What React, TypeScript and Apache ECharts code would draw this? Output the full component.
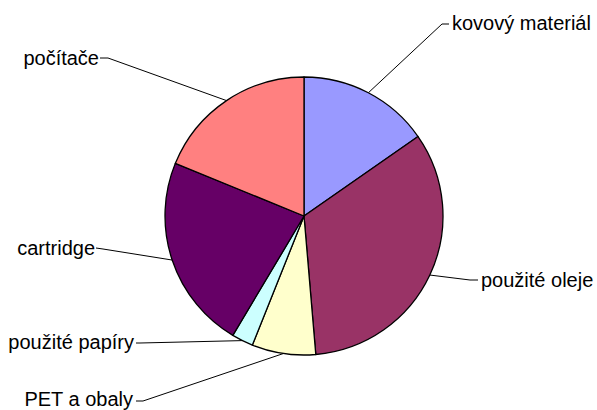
import React, { useEffect, useRef } from "react";
import * as echarts from "echarts";

const categories = ["kovový materiál", "použité oleje", "PET a obaly", "použité papíry", "cartridge", "počítače"];
const values = [15.3, 33.3, 7.4, 2.5, 22.6, 18.8];
const colors = ["#9999FF", "#993366", "#FFFFCC", "#CCFFFF", "#660066", "#FF8080"];

// label anchor [x, y, align] and leader elbow / end points
const labelLayouts: { x: number; y: number; align: "left" | "right"; elbow: number[]; end: number[] }[] = [
  { x: 452, y: 23, align: "left", elbow: [442, 24], end: [449, 24] },
  { x: 481, y: 280, align: "left", elbow: [470, 280], end: [478, 280] },
  { x: 133, y: 399, align: "right", elbow: [143, 401], end: [136, 401] },
  { x: 134, y: 342, align: "right", elbow: [140, 343], end: [136, 343] },
  { x: 95, y: 248, align: "right", elbow: [103, 249], end: [96, 248] },
  { x: 99, y: 58, align: "right", elbow: [108, 58], end: [100, 58] },
];

export default function App() {
  const ref = useRef<HTMLDivElement>(null);
  useEffect(() => {
    if (!ref.current) return;
    const chart = echarts.init(ref.current, undefined, { renderer: "svg" });
    chart.setOption({
      animation: false,
      backgroundColor: "#ffffff",
      series: [
        {
          type: "pie",
          center: [304, 216],
          radius: 139,
          startAngle: 90,
          clockwise: true,
          avoidLabelOverlap: false,
          data: categories.map((name, i) => ({
            name,
            value: values[i],
            itemStyle: { color: colors[i] },
          })),
          itemStyle: { borderColor: "#000000", borderWidth: 1.3 },
          emphasis: { disabled: true },
          label: {
            show: true,
            formatter: "{b}",
            color: "#000000",
            fontFamily: "Liberation Sans, Arial, sans-serif",
            fontSize: 20,
          },
          labelLine: {
            show: true,
            length: 20,
            length2: 10,
            lineStyle: { color: "#000000", width: 1 },
          },
          labelLayout: (params: any) => {
            const l = labelLayouts[params.dataIndex];
            const pts = params.labelLinePoints;
            const edge = pts && pts[0] ? pts[0] : l.elbow;
            return {
              x: l.x,
              y: l.y,
              align: l.align,
              verticalAlign: "middle",
              labelLinePoints: [edge, l.elbow, l.end],
            };
          },
        },
      ],
    });
    return () => chart.dispose();
  }, []);
  return (
    <div
      ref={ref}
      style={{ position: "absolute", left: 0, top: 0, width: 597, height: 410 }}
    />
  );
}
